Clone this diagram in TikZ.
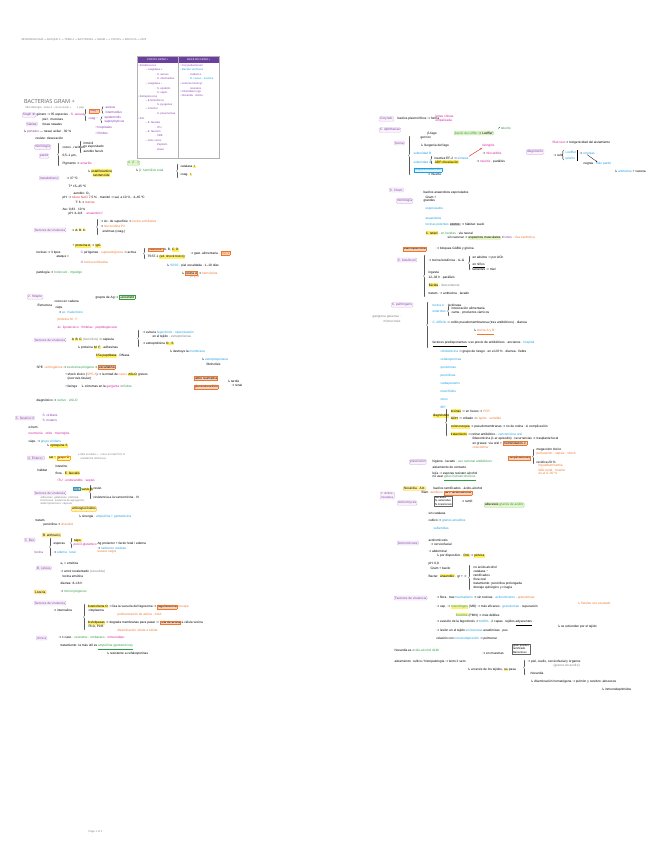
\documentclass[tikz,border=0pt]{standalone}
\usepackage{fontspec}
\setmainfont{Liberation Sans}
\newfontfamily\symf{DejaVu Sans}
\newfontfamily\titf{Open Sans}
\usetikzlibrary{positioning, decorations.pathreplacing, arrows.meta}

\definecolor{tagc}{HTML}{8A3FB0}
\definecolor{hdr}{HTML}{6B3FA0}
\definecolor{mag}{HTML}{D6249F}
\definecolor{cya}{HTML}{1BA1E2}
\definecolor{org}{HTML}{F0782D}
\definecolor{grn}{HTML}{2E9E48}
\definecolor{hly}{HTML}{FFF066}
\definecolor{ofill}{HTML}{FAD2BC}
\definecolor{lgrn}{HTML}{E6F5C8}
\definecolor{red1}{HTML}{E53935}

\setlength{\fboxsep}{0.35pt}
\setlength{\fboxrule}{0.3pt}
\newcommand{\hy}[1]{\colorbox{hly}{#1}}
\newcommand{\ob}[1]{\fcolorbox{org}{ofill}{#1}}
\newcommand{\gb}[1]{\fcolorbox{grn}{lgrn}{#1}}
\newcommand{\cb}[1]{\fcolorbox{cya}{cya!12}{#1}}
\newcommand{\yb}[1]{\fcolorbox{orange!70!yellow}{hly!60}{#1}}
\newcommand{\tmag}[1]{\textcolor{mag}{#1}}
\newcommand{\tcya}[1]{\textcolor{cya}{#1}}
\newcommand{\torg}[1]{\textcolor{org}{#1}}
\newcommand{\tgrn}[1]{\textcolor{grn}{#1}}
\newcommand{\tpur}[1]{\textcolor{tagc}{#1}}
\newcommand{\tred}[1]{\textcolor{red1}{#1}}
\newcommand{\ra}{{\symf →}}
\newcommand{\hk}{{\symf ↳}}

\tikzset{
  note/.style={anchor=west, inner sep=0.3pt, font=\fontsize{3.2}{3.8}\selectfont},
  small/.style={note, font=\fontsize{2.7}{3.2}\selectfont},
  tag/.style={note, text=tagc, draw=tagc!45, fill=tagc!6, dash pattern=on 0.6pt off 0.5pt, rounded corners=1pt, inner sep=0.8pt},
  ytag/.style={note, draw=orange!70!yellow, fill=hly!60, dash pattern=on 0.6pt off 0.5pt, rounded corners=1pt, inner sep=0.8pt},
  gtag/.style={note, draw=grn!60, fill=lgrn, dash pattern=on 0.6pt off 0.5pt, rounded corners=1pt, inner sep=0.8pt},
  brc/.style={decorate, decoration={brace, amplitude=1.3pt}, line width=0.3pt},
  cell/.style={note, text=tagc, font=\fontsize{2.7}{3.2}\selectfont},
}

\begin{document}
\begin{tikzpicture}[x=1pt, y=-1pt]
\useasboundingbox[fill=white] (0,0) rectangle (655,848);

% header line
\node (head) [small, text=gray] at (21,40) {MICROBIOLOGÍA \ra{} BLOQUE 2 \ra{} TEMA 4 \ra{} BACTERIAS \ra{} GRAM + \ra{} COCOS \ra{} BACILOS \ra{} 2023};

% summary table
\draw[gray!60, line width=0.4pt] (137,56) rectangle (219,158);
\draw[gray!60, line width=0.4pt] (178,56) -- (178,158);
\node (th1) [fill=hdr, text=white, font=\fontsize{2.7}{3}\selectfont, minimum width=40pt, minimum height=6pt, inner sep=0pt, anchor=north west] at (137.5,56.5) {COCOS GRAM +};
\node (th2) [fill=hdr, text=white, font=\fontsize{2.7}{3}\selectfont, minimum width=40pt, minimum height=6pt, inner sep=0pt, anchor=north west] at (178.5,56.5) {BACILOS GRAM +};
\foreach \x/\y/\t [count=\i] in {138/66/• Estafilococos, 145/70/– coagulasa +, 155/75/· S. aureus, 155/79/· S. intermedius,
  145/84/– coagulasa −, 155/89/· S. epiderm., 155/93/· S. sapro., 138/97/• Estreptococos,
  145/101/– β-hemolíticos, 155/105/· S. pyogenes, 145/109/– α-hemol., 155/114/· S. pneumoniae,
  138/119/• Ent., 145/123/– E. faecalis, 155/128/· ITU, 145/132/– E. faecium, 155/136/· VRE,
  145/141/– otros cocos, 155/145/· Peptostr., 155/150/· anaer.}
  \node (tl\i) [cell] at (\x,\y) {\t};
\node (tr1) [cell] at (180,66) {• Corynebacterium};
\node (tr2) [cell, text=cya] at (180,70) {• Bacillus anthracis};
\node (tr3) [cell] at (188,75) {· carbunco};
\node (tr4) [cell, text=cya] at (188,79) {· B. cereus · emética};
\node (tr5) [cell] at (180,84) {• Listeria monocyt.};
\node (tr6) [cell] at (188,89) {· neonatos};
\node (tr7) [cell] at (180,92) {• Clostridium spp.};
\node (tr8) [cell] at (180,96) {• Nocardia · Actino.};

% title
\node (title) [anchor=west, inner sep=0pt, text=gray!80!black, font=\titf\fontsize{5.6}{6}\selectfont] at (24,101) {BACTERIAS GRAM +};
\node (sub) [small, text=gray] at (25,108) {Microbiología · tema 4 · cocos Gram +\quad\quad 1 pág};

% ---------- left column ----------
\node (staph) [tag] at (22,115) {Staph {\symf ⊕}};
\node (gen) [note] at (36,115) {género \ra{} 35 especies · \tmag{S. aureus}};
\draw[brc] (86,121) -- (86,109);
\node (cp) [note, text=tagc] at (88,111) {\ob{coag +}};
\node (cn) [note, text=tagc] at (88,119) {coag −};
\draw[brc] (103,113.5) -- (103,106.5);
\node (cp1) [note, text=tagc] at (105,108) {aureus};
\node (cp2) [note, text=tagc] at (105,112) {intermedius};
\draw[brc] (102,123) -- (102,116.5);
\node (cn1) [note, text=tagc] at (104,118) {epidermidis};
\node (cn2) [note, text=tagc] at (104,122) {saprophyticus};
\node (hab) [tag] at (26,124) {hábitat};
\node (hab1) [note] at (42,120) {piel · mucosas};
\node (hab2) [note] at (42,124) {fosas nasales};
\node (port) [note] at (23,132) {\hk{} \tpur{portador} — nasal, axilar · 30 \%};
\node (port1) [note, text=tagc] at (95,128) {• hospitales};
\node (port2) [note, text=tagc] at (95,133) {• fómites};
\node (res) [note] at (35,138) {resiste: desecación};

\node (morf) [tag] at (34,147) {morfología};
\node (estr) [tag] at (39,156) {pared};
\draw[brc] (59,166) -- (59,143);
\node (m1) [note] at (62,147) {cocos · racimos};
\node (m2) [note] at (62,156) {0,5–1 µm,};
\node (m3) [note] at (62,164) {Pigmento \ra{} \tmag{amarillo}};
\draw[brc] (81,153) -- (81,141);
\node (m11) [note] at (83,143) {inmóvil};
\node (m12) [note] at (83,147) {no esporulado};
\node (m13) [note] at (83,151) {aerobio facult.};
\node (pig1) [note] at (87,171) {\hk{} \hy{estafiloxantina}};
\node (pig2) [note] at (92,175) {\hy{carotenoide}};
\node (hem) [gtag, text=grn] at (127,163) {α · β · γ};
\node (hem1) [note] at (135,171) {\hk{} \tgrn{β: hemólisis total}};
\draw[brc] (178,178) -- (178,164);
\node (cat) [note] at (180,167) {catalasa \hy{+}};
\node (coa) [note] at (180,175) {coag. \hy{+}};

\node (meta) [tag] at (39,178) {metabolismo};
\node (meta0) [note] at (66,178) {\ra{} 37 ºC};
\node (meta1) [note] at (68,186) {T.ª 15–45 ºC};
\node (meta2) [note] at (73,193) {aerobio: O₂};
\node (meta3) [note] at (62,198) {pH: \ra{} \tred{tolera NaCl} 7,5 \% · manitol \ra{} sal, a 10 \% · 4–45 ºC};
\node (meta4) [note] at (75,202) {T: 6 \ra{} \tred{resiste}};
\node (meta5) [note] at (62,210) {Aw: 0,83 · 10 \%};
\node (meta6) [note] at (68,214) {pH: 4–9,8 \quad \tmag{anaerobio f.}};

\node (fv) [tag] at (34,230) {factores de virulencia};
\node (fv0) [note] at (71,230) {\ra{} \hy{A} \hy{B} \hy{C}};
\draw[brc] (98,235) -- (98,219);
\node (fv1) [note] at (100,222) {\ra{} Ac. de superficie \ra{} \torg{toxina exfoliativa}};
\node (fv2) [note] at (100,226) {\ra{} \torg{leucocidina PV}};
\node (fv3) [note] at (102,232) {enzimas (coag.)};
\node (prA) [note] at (72,246) {+ \hy{proteína A} \ra{} \hy{IgG}};
\node (tox) [note] at (36,253) {toxinas \ra{} 3 tipos};
\node (tox0) [note] at (56,257) {ataque =};
\node (tox1) [note] at (80,253) {\tpur{{\symf ①}} pirógenas · \torg{superantígenos} \ra{} activa};
\draw[brc] (145,259) -- (145,248);
\node (tox11) [note] at (147,250) {\ob{enterotox.} A, B, \hy{C, D}};
\node (tox12) [note] at (147,257) {TSST-1 \hy{(sd. shock tóxico)}};
\node (tox13) [note] at (190,253) {\ra{} gast. alimentaria · \ob{\torg{shock}}};
\node (tox2) [note] at (80,262) {\tpur{{\symf ②}} \torg{toxina exfoliativa}};
\node (tox21) [note] at (166,266) {\hk{} \tcya{SSSS} · piel escaldada · 1–10 días};
\node (tox3) [note] at (181,273) {\hk{} \ob{toxina α} \ra{} \torg{hemolisina}};
\node (tox31) [note] at (190,277) {\torg{β, γ, δ}};
\node (pat) [note] at (36,273) {patología \ra{} \tgrn{forúnculo} · \tgrn{impétigo}};

\node (strep) [tag] at (27,297) {2. Strepto};
\node (strep0) [note] at (54,301) {cocos en cadena};
\node (lanc) [note] at (95,297) {grupos de Ag \ra{} \gb{Lancefield}};
\node (es) [note] at (37,305) {Estructura};
\node (es1) [note] at (55,308) {cáps.};
\node (es2) [note] at (58,312) {\ra{} \tcya{ác. hialurónico}};
\node (es3) [note, text=org] at (57,320) {proteína M · F};
\node (es4) [note, text=mag] at (57,328) {ác. lipoteicoico · fimbrias · peptidoglucano};
\node (sfv) [tag] at (34,340) {factores de virulencia};
\node (sfv0) [note] at (71,340) {\hy{A} \hy{B} \hy{C} \textcolor{gray}{(hemólisis)} \ra{} cápsula};
\draw[brc] (139,347) -- (139,330);
\node (sfv1) [note] at (142,333) {\ra{} evita la \tcya{fagocitosis · opsonización}};
\node (sfv2) [note] at (152,337) {en el tejido · \textcolor{gray}{estreptolisinas}};
\node (sfv3) [note] at (142,344) {\ra{} estreptolisina \hy{O · S}};
\node (sfv4) [note] at (169,352) {\hk{} destruye la \tcya{membrana}};
\node (sfv5) [note] at (77,348) {\hk{} proteína \hy{M} \hy{F} · adhesinas};
\node (sfv6) [note] at (95,356) {\hy{C5a peptidasa} · DNasa};
\node (sfv7) [note] at (201,360) {\hk{} \tcya{estreptoquinasa}};
\node (sfv8) [note] at (206,364) {fibrinolisis};
\node (spe) [note] at (36,367) {SPE · \torg{eritrogénica} \ra{} \tgrn{exotoxina pirógena} \ra{} \ob{escarlatina}};
\node (spe1) [note] at (65,375) {• shock tóxico (\torg{SPE-A}) \ra{} la mitad de \torg{casos} \hy{ASLO} graves};
\node (spe2) [note] at (67,379) {(necrosis tisular)};
\node (rf) [note] at (193,378) {\ob{fiebre reumática}};
\node (gn) [note] at (193,387) {\ob{glomerulonefritis}};
\node (spe3) [note] at (65,387) {• faringe \quad \hk{} síntomas en la \tmag{garganta} \ra{} \tgrn{fiebre}};
\node (spe4) [note] at (227,381) {\hk{} tardía};
\node (spe5) [note] at (231,385) {\ra{} renal};
\node (dx) [note] at (36,401) {diagnóstico \ra{} \tgrn{cultivo · ASLO}};

\node (neu) [tag] at (15,418) {3. Neumoco};
\node (neu1) [note, text=tagc] at (42,415) {S. viridans};
\node (neu2) [note, text=tagc] at (42,420) {S. mutans};
\node (neu3) [note] at (28,427) {α-hem.};
\node (neu4) [note, text=mag] at (28,434) {neumonía · otitis · meningitis};
\node (neu5) [note] at (28,442) {cáps. \ra{} \tcya{grupo viridans}};
\node (neu6) [note] at (46,446) {\hk{} \hy{optoquina S}};

\node (ent) [tag] at (27,458) {4. Enteroc.};
\node (ent0) [note] at (48,458) {\hy{cat −} \yb{grupo D}};
\node (ent00) [small, text=gray] at (77,455) {\hk{} bilis esculina + · crece en NaCl 6,5 \%};
\node (ent01) [small, text=gray] at (80,459) {resistencia intrínseca};
\node (ent1) [note] at (37,470) {hábitat};
\node (ent2) [note] at (55,466) {intestino};
\node (ent3) [note] at (55,473) {flora · \hy{E. faecalis}};
\node (ent4) [note, text=mag] at (57,481) {ITU · endocarditis · sepsis};
\node (efv) [tag] at (34,493) {factores de virulencia};
\node (efv1) [small, text=gray] at (40,498) {adhesinas, gelatinasa, citolisina,};
\node (efv2) [small, text=gray] at (40,501) {feromonas, sustancia de agregación,};
\node (efv3) [small, text=gray] at (40,504) {ácido lipoteicoico, cápsula};
\node (vre) [note] at (72,489) {\cb{VRE} \hy{vanA, B}};
\draw[brc] (91,499) -- (91,485);
\node (vre1) [note] at (93,488) {resist.};
\node (vre2) [note] at (93,497) {resistencia a la vancomicina · IV};
\node (amg) [ytag] at (71,509) {aminoglucósidos};
\node (amg1) [note] at (78,517) {\hk{} sinergia · \tcya{ampicilina + gentamicina}};
\node (trat) [note] at (35,520) {tratam.};
\node (trat1) [note] at (43,525) {penicilina \ra{} \torg{linezolid}};

\node (bac) [tag] at (24,540) {5. Bac};
\node (anth) [ytag] at (42,535) {B. anthracis};
\draw[brc] (51,556) -- (51,538);
\node (an1) [note] at (53,544) {esporas};
\draw[brc] (72,548) -- (72,538);
\node (an2) [note] at (73,540.5) {\hy{cáps.}};
\node (an3) [note, text=mag] at (73,544.5) {poli-D-glutámico};
\node (an4) [note] at (97,544) {Ag protector + factor letal / edema};
\node (an5) [note] at (97,548) {\ra{} \tcya{carbunco cutáneo}};
\node (an6) [note, text=org] at (97,552) {escara negra};
\node (an7) [note, text=tagc] at (34,552) {toxina};
\node (an8) [note] at (53,552) {\ra{} \tcya{edema · letal}};
\node (cer) [tag] at (36,568) {B. cereus};
\node (cer1) [note] at (60,563) {e₁ = emética};
\node (cer2) [note] at (60,572) {\ra{} arroz recalentado \textcolor{gray}{(cereulida)}};
\node (cer3) [note] at (62,576) {toxina emética};
\node (cer4) [note] at (60,583) {diarrea: 8–16 h};
\node (lis) [ytag] at (34,592) {Listeria};
\node (lis0) [note] at (60,592) {\ra{} \tgrn{monocytogenes}};
\node (lfv) [tag] at (34,603) {factores de virulencia};
\node (lfv0) [note] at (53,610) {\ra{} internalina};
\draw[brc] (85,630) -- (85,604);
\node (lfv1) [note] at (87,607) {\hy{listeriolisina O} \ra{} lisa la vacuola del fagosoma \ra{} \ob{fagolisosoma} \torg{escape}};
\node (lfv2) [note] at (88,611) {citoplasma};
\node (lfv3) [note, text=org] at (117,615) {polimerización de actina · ActA};
\node (lfv4) [note] at (87,623) {\hy{fosfolipasas} \ra{} degrada membranas para pasar \ra{} \ob{cola de actina} a célula vecina};
\node (lfv5) [note] at (88,627) {PlcA, PlcB};
\node (lfv6) [note, text=org] at (117,630) {diseminación célula a célula};
\node (lcl) [tag] at (36,638) {clínica};
\node (lcl1) [note] at (58,638) {\ra{} 1 caso · \tgrn{neonatos} · \tgrn{embarazo} · \tmag{inmunodepr.}};
\node (ltr) [note] at (60,647) {tratamiento: la más útil es \tgrn{\underline{ampicilina (gentamicina)}}};
\node (ltr1) [note] at (106,654) {\hk{} resistente a cefalosporinas};

% ---------- right column ----------
\node (cor) [tag] at (379,119) {Coryneb.};
\node (cor0) [note] at (397,119) {bacilos pleomórficos \ra{} forma};
\node (cor1) [note, text=mag] at (435,116) {letras chinas};
\node (cor2) [note, text=mag] at (435,121) {empalizada};
\node (dip) [tag] at (379,130) {C. diphtheriae};
\node (lof) [gtag] at (454,133) {\tgrn{bacilo de Löffler} \ra{} Loeffler};
\node (tel) [note] at (497,128) {{\symf ↗} \tgrn{telurito}};
\node (dtx) [tag] at (394,143) {toxina};
\draw[brc] (410,175) -- (410,136);
\node (dtx0) [note] at (427,134) {β-fago};
\node (dtx1) [note] at (420,138) {gen tox};
\node (dtx2) [note] at (420,146) {\hk{} lisogenia del fago};
\node (dtx3) [note, text=cya] at (413,153) {subunidad B};
\node (dtx4) [note, text=cya] at (413,162) {subunidad A};
\draw[brc] (432,164) -- (432,156);
\node (dtx5) [note] at (434,158) {inactiva EF-2 \ra{} \tcya{síntesis}};
\node (dtx6) [note] at (434,162) {\hy{ADP-ribosilación}};
\node (dtx7) [note] at (413,170) {\cb{\tcya{bloquea traducción}}};
\node (dtx8) [note] at (427,174.5) {\ra{} muerte};
\node (cl1) [note, text=mag] at (482,146) {faringitis};
\node (cl2) [note] at (482,153) {\ra{} \tmag{miocarditis}};
\node (cl3) [note] at (476,162) {\ra{} \tmag{neuritis} · parálisis};
\draw[-{Stealth[length=2pt]}, red1, line width=0.5pt] (dtx5.north east) -- (cl1.south west);
\node (ddx) [tag] at (526,152) {diagnóstico};
\node (ddx0) [note] at (552,143) {\tmag{Elek test} \ra{} toxigenicidad del aislamiento};
\node (ddx1) [note] at (553,155) {\ra{} cult.};
\node (ddx2) [note, text=cya] at (565,152) {Loeffler};
\node (ddx3) [note, text=cya] at (565,158) {telurito};
\draw[brc] (563.5,160) -- (563.5,150);
\draw[line width=0.3pt] (577,150) -- (577,161);
\node (ddx4) [note] at (579,153) {\ra{} \tcya{colonias}};
\node (ddx5) [note] at (583,164) {negras · \tcya{halo pardo}};
\draw[-{Stealth[length=1.5pt]}, line width=0.3pt] (ddx4.south) -- (ddx5.north);
\node (ddx6) [note] at (614,171) {\hk{} \tcya{antitoxina} + vacuna};

\node (clo) [tag] at (389,190) {6. Clostr.};
\node (clo0) [note] at (423,193) {bacilos anaerobios esporulados};
\node (clo1) [note] at (425,197) {Gram +};
\node (clo2) [tag] at (396,201) {morfología};
\node (clo3) [note] at (423,201) {grandes};
\node (clo4) [note, text=cya] at (425,209) {esporulados};
\node (clo5) [note, text=cya] at (425,218) {anaerobios};
\node (clo6) [note] at (425,225) {\tcya{toxinas potentes} \colorbox{gray!25}{exotox.} \ra{} hábitat: suelo};
\node (clo7) [note] at (425,233) {\hy{C. tetani} · \tgrn{en heridas} · vía neural};
\node (clo8) [note] at (447,238) {sin vacunar \ra{} \colorbox{lgrn}{espasmos musculares} \tpur{trismus} · \torg{risa sardónica}};
\node (tet) [note] at (402,249) {\ob{tetanospasmina}};
\node (tet1) [note] at (436,249) {\ra{} bloquea GABA y glicina};
\node (bot) [tag] at (397,260) {C. botulinum};
\draw[brc] (425,297) -- (425,255);
\node (bot0) [note] at (428,260) {\ra{} toxina botulínica · A–G};
\draw[brc] (470,270) -- (470,256);
\node (bot1) [note] at (472,258) {en adultos \ra{} por ACh};
\node (bot2) [note] at (472,265.5) {\underline{en niños}};
\node (bot3) [note] at (472,269.5) {lactantes \ra{} miel};
\node (bot4) [note] at (428,273) {ingesta};
\node (bot5) [note] at (428,278) {12–36 h · parálisis};
\node (bot6) [note] at (428,285) {\hy{flácida} · \textcolor{gray}{descendente}};
\node (bot7) [note] at (428,293) {tratam. \ra{} antitoxina · lavado};
\node (per) [tag] at (391,305) {C. perfringens};
\node (per0) [note, text=gray] at (372,317) {gangrena gaseosa ·};
\node (per1) [note, text=gray] at (383,321) {mionecrosis};
\draw[brc] (428,348) -- (428,302);
\node (per2) [note] at (432,305) {\tcya{toxina α} \quad lecitinasa};
\node (per3) [note] at (432,311) {\tcya{enterotox.}};
\draw[brc] (449,316) -- (449,306);
\node (per4) [note] at (451,308.5) {intoxicación alimentaria};
\node (per5) [note] at (451,313) {carne · productos cárnicos};
\node (dif) [note] at (432,323) {\tcya{C. difficile} \ra{} colitis pseudomembranosa (tras antibióticos) · diarrea};
\node (dif0) [note] at (473,332) {\hk{} \torg{\underline{toxina A y B}}};
\node (dif1) [note] at (432,344) {\underline{factores predisponentes}: uso previo de antibióticos · ancianos · \tcya{hospital}};
\node (ab1) [note] at (440,352) {\tcya{clindamicina} \ra{} grupo de riesgo · en el 20 \% · diarrea · fiebre};
\foreach \t [count=\i from 2] in {cefalosporinas, quinolonas, penicilinas, carbapenems, macrólidos, otros, IBP}
  \node (ab\i) [note, text=cya] at (440,352+7.9*\i-7.9) {\t};
\node (ddif) [note] at (432,416) {\hy{diagnóstico}};
\draw[brc] (447,436) -- (447,409);
\node (ddif1) [note] at (450,411) {\hy{toxinas} \ra{} en heces \ra{} \torg{PCR}};
\node (ddif2) [note] at (450,419) {\hy{GDH} \ra{} cribado \ra{} \torg{rápido · sensible}};
\node (ddif3) [note] at (450,427) {\hy{colonoscopia} \ra{} pseudomembranas \ra{} no de rutina · si complicación};
\node (ddif4) [note] at (450,434) {\hy{tratamiento} \ra{} retirar antibiótico · \tcya{vancomicina oral}};
\node (ddif5) [note] at (472,439) {fidaxomicina (1.er episodio) · recurrencias \ra{} trasplante fecal};
\node (ddif6) [note] at (472,443) {en graves: vía oral + \ob{metronidazol i.v.}};
\node (ddif7) [note, text=org] at (472,447) {colectomía};
\node (comp) [note] at (507,458) {\ob{complicaciones}};
\draw[brc] (534,464) -- (534,449);
\node (comp1) [note] at (536,450) {megacolon tóxico};
\node (comp2) [note, text=org] at (536,454) {perforación · sepsis · shock};
\node (comp3) [note] at (536,462) {recidiva 20 \%};
\node (comp4) [note, text=org] at (538,466) {hipoalbuminemia};
\node (comp5) [note, text=org] at (538,470) {fallo renal · muerte};
\node (comp6) [note, text=org] at (538,473.5) {en el 6–30 \%};
\node (prev) [tag] at (409,462) {prevención};
\node (prev1) [note] at (432,462) {higiene · lavado · \tgrn{uso racional antibióticos}};
\node (prev2) [note] at (432,467) {aislamiento de contacto};
\node (prev3) [note] at (432,474) {lejía \ra{} esporas resisten alcohol};
\node (prev4) [note] at (432,478) {no usar \tgrn{\underline{geles hidroalcohólicos}}};

\node (noc) [ytag] at (403,488.5) {Nocardia · Act.};
\node (noc0) [note] at (433,488) {bacilos ramificados · ácido-alcohol};
\node (act) [tag, align=left, font=\fontsize{2.9}{3.3}\selectfont] at (380,495.5) {7. Actino-\\micetales};
\node (noc1) [note] at (421,493) {filam. \torg{aerobios} \ob{parc. ácido-alcohol}};
\node (noc2) [note, draw=black!60, inner sep=0.8pt, align=left, font=\fontsize{2.7}{3.1}\selectfont] at (434,501) {Nocardia\\N. asteroides\\N. brasiliensis};
\node (noc3) [note] at (461,501) {\ra{} ramif.};
\node (actm) [tag] at (397,503) {Actinomyces};
\node (noc4) [gtag] at (484,505) {abscesos \tgrn{granos de azufre}};
\node (noc5) [note] at (428,513) {sin catalasa};
\node (noc6) [note] at (428,521) {cultivo \ra{} \tcya{granos amarillos}};
\node (noc7) [note, text=cya] at (433,528) {sulfamidas};
\node (noc8) [note] at (428,540) {actinomicosis};
\node (noc9) [note] at (430,544) {\ra{} cervicofacial};
\node (acm) [tag] at (397,543) {Actinomicosis};
\node (noc10) [note] at (428,551) {\ra{} abdominal};
\node (noc11) [note] at (436,556) {\hk{} por dispositivo · \hy{DIU} \ra{} \hy{pélvica}};
\node (noc12) [note] at (428,564) {pH: 6,8};
\node (noc13) [note] at (430,568) {Gram + bacilo};
\node (noc14) [note] at (428,576) {Bacter. \hy{anaerobio} · gr + \ra{}};
\draw[brc] (470,590) -- (470,565);
\foreach \t [count=\i] in {no ácido-alcohol, catalasa −, ramificados, flora oral, tratamiento: penicilina prolongada, drenaje quirúrgico y cirugía}
  \node (nb\i) [note] at (473,563+4.1*\i) {\t};
\node (afv) [tag] at (394,598) {Factores de virulencia};
\node (afv1) [note] at (436,598) {\ra{} flora · tras \tcya{traumatismo} \ra{} sin toxinas · \tcya{actinomicetos} · \torg{granulomas}};
\node (afv2) [note, text=org] at (577,603) {\hk{} fístulas con exudado};
\node (afv3) [note] at (436,607) {\ra{} cap. \ra{} \hy{\tcya{macrófagos}} (MO) \ra{} más eficaces · \tcya{granulomas} · supuración};
\node (afv4) [note] at (455,615) {\hy{\tcya{lisozima}} (PMN) \ra{} más débiles};
\node (afv5) [note] at (436,623) {\ra{} evasión de la fagocitosis \ra{} \tcya{biofilm} · 2 capas · tejidos \underline{adyacentes}};
\node (afv6) [note] at (557,627) {\hk{} se extienden por el tejido};
\node (afv7) [note] at (436,631) {\ra{} lesión en el tejido \tcya{sin barreras} anatómicas · pus};
\node (afv8) [note] at (436,639) {relación con \tcya{inmunodepresión} \ra{} pulmonar};
\node (nacid) [note] at (394,650) {Nocardia es \tgrn{ácido-alcohol débil}};
\node (iso) [note] at (394,662) {aislamiento: cultivo / histopatología \ra{} lento 2 sem.};
\node (iso1) [note] at (482,653) {\ra{} en muestras};
\node (iso2) [note, draw=black!60, inner sep=0.8pt, align=left, font=\fontsize{2.7}{3.1}\selectfont] at (512,649) {gram positivo\\ramificado\\filamentoso};
\node (iso3) [note] at (467,670) {\hk{} a través de los tejidos, \hy{no} pasa};
\draw[brc] (525,675) -- (525,660);
\node (iso4) [note] at (527,662) {\ra{} piel, cuello, cervicofacial y órganos};
\node (iso5) [note, text=gray] at (553,666) {(granos de azufre)};
\node (iso6) [note] at (530,673) {Nocardia};
\node (iso7) [note] at (530,682) {\hk{} diseminación hematógena \ra{} pulmón y cerebro: abscesos};
\node (iso8) [note] at (601,690) {\hk{} inmunodeprimidos};

% footer
\node (foot) [small, text=gray] at (88,832) {Page 1 of 1};
\end{tikzpicture}
\end{document}
